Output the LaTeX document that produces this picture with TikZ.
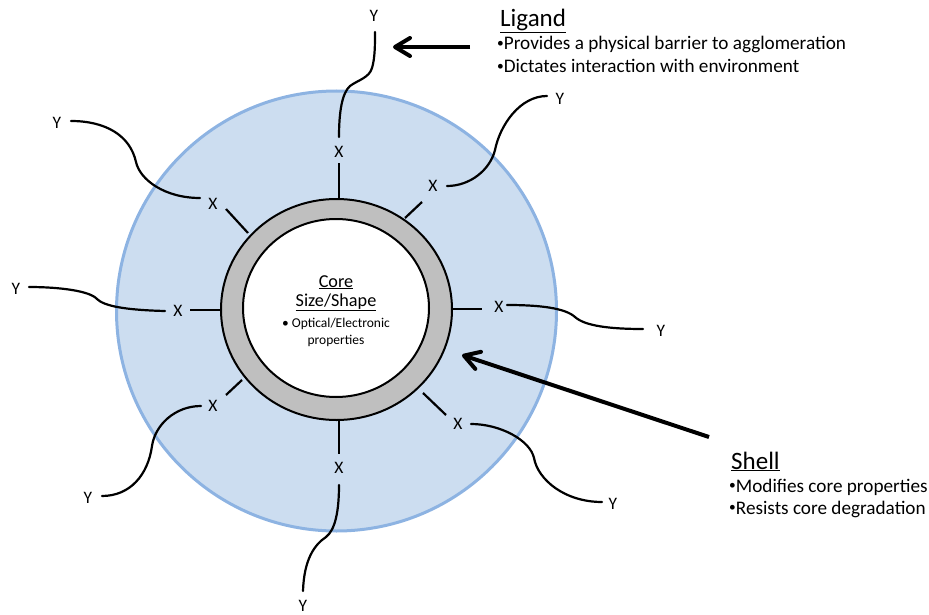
\documentclass[tikz,border=0pt]{standalone}
\usepackage{fontspec}
\setmainfont{Carlito}
\usetikzlibrary{arrows.meta}
\definecolor{ligblue}{RGB}{204,221,240}
\definecolor{ligedge}{RGB}{141,179,226}
\definecolor{shellgray}{RGB}{191,191,191}
\newcommand{\bul}{\raisebox{0.12em}{\scalebox{0.7}{•}}}
\tikzset{
  lig/.style={line width=2.2pt, line cap=round},
  spoke/.style={line width=2.2pt},
  lab/.style={font=\fontsize{17.5}{18}\selectfont, inner sep=0pt},
  bigarrow/.style={line width=4pt, -{Straight Barb[length=15pt,width=18pt,line join=round,line cap=round]}},
  heading/.style={font=\fontsize{25}{26}\selectfont, anchor=base west, inner sep=0pt},
  bullet/.style={font=\fontsize{19.2}{20}\selectfont, anchor=base west, inner sep=0pt},
  coretext/.style={font=\fontsize{18.2}{19}\selectfont, anchor=base, inner sep=0pt},
  coresmall/.style={font=\fontsize{13.5}{14}\selectfont, anchor=base, inner sep=0pt}
}
\begin{document}
\begin{tikzpicture}[x=1pt,y=-1pt]
\useasboundingbox (0,0) rectangle (929,615);
% ligand shell (blue)
\draw[fill=ligblue, draw=ligedge, line width=3pt] (336.5,311) circle (220);
% inorganic shell
\draw[fill=shellgray, line width=2pt] (336.5,309.5) ellipse [x radius=115.5, y radius=110.5];
% core
\draw[fill=white, line width=2pt] (336,308) ellipse [x radius=93, y radius=89];

% core text
\node[coretext] (core) at (336,287) {\underline{Core}};
\node[coretext] (size) at (336,306) {\underline{Size/Shape}};
\node[coresmall] (opt) at (336,327) {\textbullet\ Optical/Electronic};
\node[coresmall] (prop) at (336,344) {properties};

% X labels
\node[lab] (xt)  at (339,152) {X};
\node[lab] (xur) at (433,186) {X};
\node[lab] (xr)  at (499,307) {X};
\node[lab] (xlr) at (458,424) {X};
\node[lab] (xb)  at (339,468) {X};
\node[lab] (xll) at (213,406) {X};
\node[lab] (xl)  at (178,311) {X};
\node[lab] (xul) at (213,204) {X};
% Y labels
\node[lab] (yt)  at (374,16)  {Y};
\node[lab] (yur) at (560,99)  {Y};
\node[lab] (yr)  at (661,331) {Y};
\node[lab] (ylr) at (613,504) {Y};
\node[lab] (yb)  at (303,606) {Y};
\node[lab] (yll) at (88,498)  {Y};
\node[lab] (yl)  at (16,289)  {Y};
\node[lab] (yul) at (57,123)  {Y};

% spokes: shell surface to X
\coordinate (st)  at (339,199);  \coordinate (et)  at (339,163);
\coordinate (sur) at (405,218);  \coordinate (eur) at (422,202);
\coordinate (sr)  at (453,309);  \coordinate (er)  at (482,309);
\coordinate (slr) at (423,393);  \coordinate (elr) at (446,415);
\coordinate (sb)  at (339,421);  \coordinate (eb)  at (339,454);
\coordinate (sll) at (242,380);  \coordinate (ell) at (226,395);
\coordinate (sl)  at (220,310);  \coordinate (el)  at (190,310);
\coordinate (sul) at (248,233);  \coordinate (eul) at (226,209);
\draw[spoke] (st) -- (et);
\draw[spoke] (sur) -- (eur);
\draw[spoke] (sr) -- (er);
\draw[spoke] (slr) -- (elr);
\draw[spoke] (sb) -- (eb);
\draw[spoke] (sll) -- (ell);
\draw[spoke] (sl) -- (el);
\draw[spoke] (sul) -- (eul);

% ligand chains: X to Y
\coordinate (at) at (339,137);  \coordinate (bt) at (375,32);
\coordinate (aur) at (447,186); \coordinate (bur) at (547,96);
\coordinate (ar) at (507,305);  \coordinate (br) at (643,329);
\coordinate (alr) at (471,424); \coordinate (blr) at (602,502);
\coordinate (ab) at (339,485);  \coordinate (bb) at (303,591);
\coordinate (all) at (201,406); \coordinate (bll) at (102,496);
\coordinate (al) at (165,311);  \coordinate (bl) at (29,287);
\coordinate (aul) at (200,198); \coordinate (bul) at (71,121);

\draw[lig] (at) .. controls (339,112) and (342,93) .. (350,86)
  .. controls (358,80) and (369,78) .. (372,68)
  .. controls (375,58) and (375,45) .. (bt);
\draw[lig] (aur) .. controls (470,186) and (490,170) .. (495,150)
  .. controls (500,125) and (520,96) .. (bur);
\draw[lig] (ar) .. controls (540,305) and (565,308) .. (575,317)
  .. controls (585,326) and (610,329) .. (br);
\draw[lig] (alr) .. controls (500,424) and (530,440) .. (534,458)
  .. controls (538,480) and (565,502) .. (blr);
\draw[lig] (ab) .. controls (339,512) and (335,530) .. (326,537)
  .. controls (314,545) and (304,560) .. (bb);
\draw[lig] (all) .. controls (175,406) and (155,425) .. (152,446)
  .. controls (148,475) and (130,496) .. (bll);
\draw[lig] (al) .. controls (125,310) and (104,306) .. (97,299)
  .. controls (90,291) and (60,287) .. (bl);
\draw[lig] (aul) .. controls (165,198) and (140,180) .. (136,162)
  .. controls (130,135) and (105,121) .. (bul);

% Ligand text
\node[heading] (ligh) at (500,27) {\underline{Ligand}};
\node[bullet] (lig1) at (497,50) {\bul Provides a physical barrier to agglomeration};
\node[bullet] (lig2) at (497,72.5) {\bul Dictates interaction with environment};
% Shell text
\node[heading] (shh) at (731,469) {\underline{Shell}};
\node[bullet] (sh1) at (729,492) {\bul Modifies core properties};
\node[bullet] (sh2) at (729,514) {\bul Resists core degradation};

% arrows
\coordinate (ta) at (470,47);
\coordinate (tb) at (393,47);
\draw[bigarrow] (ta) -- (tb);
\coordinate (sa) at (709,437);
\coordinate (sb2) at (462,355);
\draw[bigarrow] (sa) -- (sb2);
\end{tikzpicture}
\end{document}
